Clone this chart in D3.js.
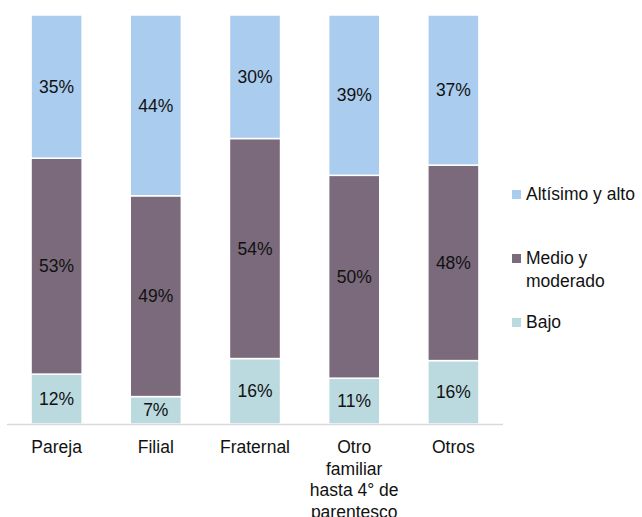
<!DOCTYPE html>
<html>
<head>
<meta charset="utf-8">
<script src="https://cdn.jsdelivr.net/npm/d3@7"></script>
<style>
  body { margin: 0; background: #fff; }
  text { font-family: "Liberation Sans", Arial, sans-serif; }
</style>
</head>
<body>
<div id="chart"></div>
<script>
// Data
const categories = ["Pareja", "Filial", "Fraternal", "Otro familiar hasta 4° de parentesco", "Otros"];
const categoryLines = [["Pareja"], ["Filial"], ["Fraternal"], ["Otro", "familiar", "hasta 4° de", "parentesco"], ["Otros"]];
const seriesNames = ["Bajo", "Medio y moderado", "Altísimo y alto"];
const bajo = [12.2, 6.7, 16.0, 11.2, 15.5];
const medio = [52.8, 49.1, 53.8, 49.6, 47.8];
const alto = [35.0, 44.2, 30.2, 39.2, 36.7];
const seriesColors = ["#BBDADF", "#7A6A7B", "#AACCEE"];

const W = 642, H = 517;
const plot = { left: 7, right: 503, top: 15, bottom: 424 };
const fontSize = "17.5px";

const svg = d3.select("#chart")
    .append("svg")
    .attr("width", W)
    .attr("height", H);

// Build table for stacking
const table = categories.map((c, i) => ({ cat: c, bajo: bajo[i], medio: medio[i], alto: alto[i] }));
const keys = ["bajo", "medio", "alto"];
const stack = d3.stack().keys(keys)(table);

const xScale = d3.scaleBand()
    .domain(categories)
    .range([plot.left, plot.right])
    .paddingInner(0.485)
    .paddingOuter(0.2425);

const yScale = d3.scaleLinear()
    .domain([0, 100])
    .range([plot.bottom, plot.top]);

// Stacked bars
const layers = svg.selectAll(".layer")
    .data(stack)
    .enter()
    .append("g")
    .attr("class", "layer")
    .attr("fill", (d, i) => seriesColors[i]);

layers.selectAll("rect")
    .data(d => d)
    .enter()
    .append("rect")
    .attr("x", d => xScale(d.data.cat))
    .attr("y", d => yScale(d[1]))
    .attr("width", xScale.bandwidth())
    .attr("height", d => yScale(d[0]) - yScale(d[1]))
    .attr("stroke", "#fff")
    .attr("stroke-width", 1.5);

// Value labels
layers.selectAll("text")
    .data(d => d)
    .enter()
    .append("text")
    .attr("x", d => xScale(d.data.cat) + xScale.bandwidth() / 2)
    .attr("y", d => (yScale(d[0]) + yScale(d[1])) / 2)
    .attr("dy", "0.35em")
    .attr("text-anchor", "middle")
    .style("font-size", fontSize)
    .style("fill", "#111")
    .text(d => Math.round(d[1] - d[0]) + "%");

// Category axis line
svg.append("line")
    .attr("x1", plot.left)
    .attr("x2", plot.right)
    .attr("y1", plot.bottom + 0.5)
    .attr("y2", plot.bottom + 0.5)
    .attr("stroke", "#d9d9d9")
    .attr("stroke-width", 1.5);

// Category labels
categories.forEach((c, i) => {
    const t = svg.append("text")
        .attr("x", xScale(c) + xScale.bandwidth() / 2)
        .attr("y", 453)
        .attr("text-anchor", "middle")
        .style("font-size", fontSize)
        .style("fill", "#111");
    categoryLines[i].forEach((line, j) => {
        t.append("tspan")
            .attr("x", xScale(c) + xScale.bandwidth() / 2)
            .attr("dy", j === 0 ? 0 : 21.5)
            .text(line);
    });
});

// Legend
const legendItems = [
    { color: seriesColors[2], lines: ["Altísimo y alto"], y: 200 },
    { color: seriesColors[1], lines: ["Medio y", "moderado"], y: 264 },
    { color: seriesColors[0], lines: ["Bajo"], y: 328 }
];

legendItems.forEach(item => {
    svg.append("rect")
        .attr("x", 512)
        .attr("y", item.y - 10)
        .attr("width", 9)
        .attr("height", 9)
        .attr("fill", item.color);
    const t = svg.append("text")
        .attr("x", 526)
        .attr("y", item.y)
        .style("font-size", fontSize)
        .style("fill", "#111");
    item.lines.forEach((line, j) => {
        t.append("tspan")
            .attr("x", 526)
            .attr("dy", j === 0 ? 0 : 23)
            .text(line);
    });
});
</script>
</body>
</html>
